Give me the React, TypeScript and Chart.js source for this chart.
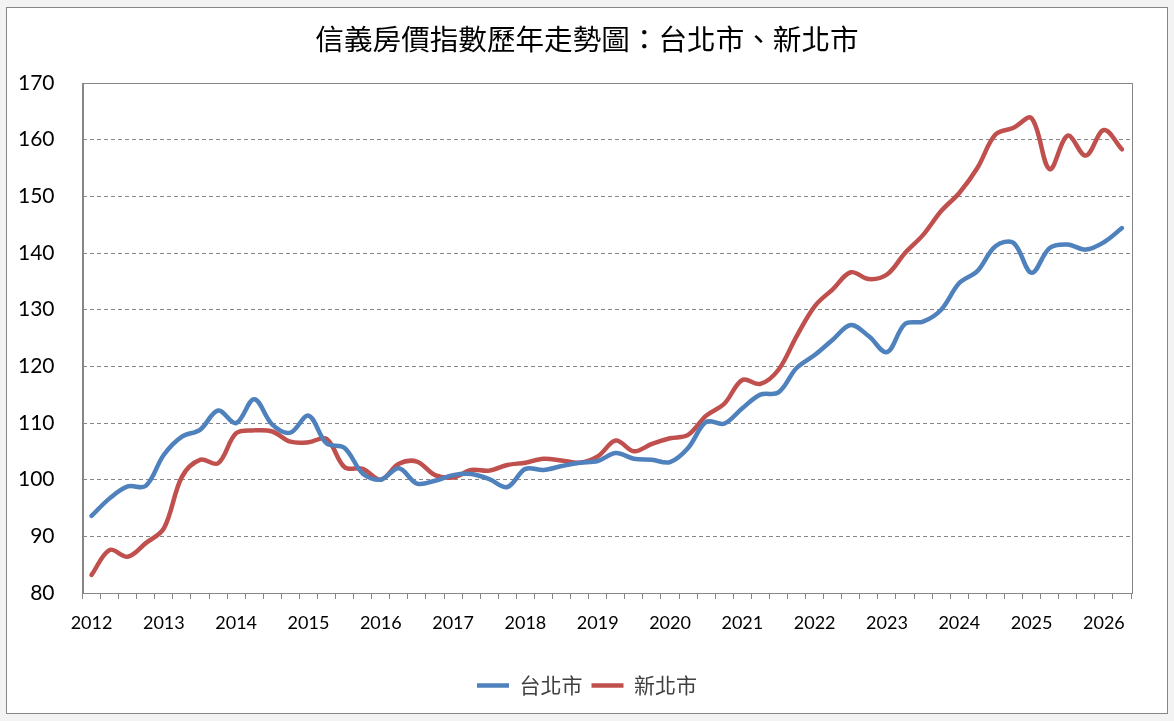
import { useEffect, useRef } from "react"
import { Chart, registerables } from "chart.js"

Chart.register(...registerables)

// quarterly index, 2012 Q1 .. 2026 Q2
const years = [2012, 2013, 2014, 2015, 2016, 2017, 2018, 2019, 2020, 2021, 2022, 2023, 2024, 2025, 2026]
const quarters = ["Q1", "Q2", "Q3", "Q4"]
const quarterLabels = years.flatMap((y) => quarters.map((q) => `${y}${q}`)).slice(0, 58)

const taipei = [
  93.6, 96.7, 98.8, 98.9, 104.4, 107.6, 108.8, 112.2, 110.0, 114.2,
  109.7, 108.3, 111.3, 106.4, 105.6, 101.1, 100.0, 102.0, 99.3, 99.8,
  100.8, 101.0, 100.1, 98.7, 101.9, 101.7, 102.4, 103.0, 103.3, 104.7,
  103.7, 103.5, 103.1, 105.6, 110.2, 109.9, 112.6, 115.0, 115.4, 119.7,
  122.0, 124.7, 127.3, 125.3, 122.5, 127.5, 127.9, 130.0, 134.7, 136.8,
  141.2, 141.8, 136.5, 140.9, 141.5, 140.6, 141.9, 144.4,
]

const newTaipei = [
  83.2, 87.6, 86.4, 88.8, 91.4, 100.5, 103.5, 102.9, 108.2, 108.7,
  108.5, 106.7, 106.6, 107.2, 102.2, 101.9, 100.0, 102.8, 103.2, 100.8,
  100.4, 101.7, 101.6, 102.6, 103.0, 103.7, 103.4, 103.0, 104.1, 106.9,
  105.0, 106.3, 107.3, 107.9, 111.3, 113.4, 117.6, 116.9, 119.4, 125.3,
  130.6, 133.6, 136.6, 135.4, 136.2, 140.0, 143.2, 147.4, 150.6, 155.0,
  160.9, 162.1, 163.8, 154.8, 160.7, 157.2, 161.7, 158.3,
]

const yTicks = [80, 90, 100, 110, 120, 130, 140, 150, 160, 170]

const GRAY = "#868686"
const LATIN = "Lato, 'Noto Sans', sans-serif"
const CJK = "'Noto Sans CJK TC', 'Noto Sans', sans-serif"

// solid frame round the plot area
const plotFrame = {
  id: "plotFrame",
  afterDraw(chart: Chart) {
    const { ctx, chartArea } = chart
    ctx.save()
    ctx.strokeStyle = GRAY
    ctx.lineWidth = 1
    ctx.strokeRect(
      Math.round(chartArea.left) + 0.5,
      Math.round(chartArea.top) + 0.5,
      Math.round(chartArea.right - chartArea.left),
      Math.round(chartArea.bottom - chartArea.top)
    )
    ctx.restore()
  },
}

function PriceIndexChart() {
  const chartRef = useRef<HTMLCanvasElement>(null)
  const chartInstance = useRef<Chart | null>(null)

  useEffect(() => {
    if (!chartRef.current) return
    if (chartInstance.current) chartInstance.current.destroy()
    const ctx = chartRef.current.getContext("2d")
    if (!ctx) return

    chartInstance.current = new Chart(ctx, {
      type: "line",
      data: {
        labels: quarterLabels,
        datasets: [
          {
            label: "台北市",
            data: taipei,
            borderColor: "#4F81BD",
            backgroundColor: "#4F81BD",
            borderWidth: 4.5,
            borderCapStyle: "round",
            pointRadius: 0,
            tension: 0.35,
          },
          {
            label: "新北市",
            data: newTaipei,
            borderColor: "#C0504D",
            backgroundColor: "#C0504D",
            borderWidth: 4.5,
            borderCapStyle: "round",
            pointRadius: 0,
            tension: 0.35,
          },
        ],
      },
      options: {
        animation: false,
        responsive: true,
        maintainAspectRatio: false,
        layout: { padding: { left: 0, right: 0, top: 0, bottom: 7 } },
        scales: {
          x: {
            offset: true,
            grid: {
              offset: true,
              drawOnChartArea: false,
              drawTicks: true,
              tickLength: 6,
              color: GRAY,
            },
            border: { color: GRAY },
            ticks: {
              autoSkip: false,
              maxRotation: 0,
              color: "#000",
              padding: 13,
              font: { family: LATIN, size: 18 },
              callback: (_v, i) => (i % 4 === 0 ? years[i / 4] : ""),
            },
            afterFit: (scale) => {
              scale.height = 73
            },
          },
          y: {
            min: yTicks[0],
            max: yTicks[yTicks.length - 1],
            grid: {
              drawTicks: false,
              color: GRAY,
            },
            // in Chart.js 4 the dash of the grid lines sits under border
            border: { color: GRAY, dash: [4, 3] },
            ticks: {
              stepSize: 10,
              color: "#000",
              padding: 28,
              font: { family: LATIN, size: 21 },
            },
            afterFit: (scale) => {
              scale.width = 75.5
            },
          },
          // empty right-hand gutter, so title and legend stay centred on the canvas
          gutter: {
            type: "linear",
            position: "right",
            display: true,
            grid: { display: false, drawTicks: false },
            border: { display: false },
            ticks: { display: false },
            afterFit: (scale) => {
              scale.width = 36
            },
          },
        },
        plugins: {
          title: {
            display: true,
            text: "信義房價指數歷年走勢圖：台北市、新北市",
            color: "#000",
            font: { family: CJK, size: 28.6, weight: "normal" },
            padding: { top: 14, bottom: 26.7 },
          },
          legend: {
            position: "bottom",
            labels: {
              usePointStyle: true,
              pointStyle: "line",
              pointStyleWidth: 32,
              color: "#404040",
              padding: 9,
              font: { family: CJK, size: 21 },
            },
          },
          tooltip: { enabled: false },
        },
      },
      plugins: [plotFrame],
    })

    return () => {
      if (chartInstance.current) {
        chartInstance.current.destroy()
        chartInstance.current = null
      }
    }
  }, [])

  return <canvas ref={chartRef} />
}

export default function App() {
  return (
    <div style={{ position: "fixed", left: 0, top: 0, width: 1174, height: 721, background: "#f3f3f3" }}>
      <div
        style={{
          position: "absolute",
          left: 6,
          top: 7,
          width: 1162,
          height: 707,
          boxSizing: "border-box",
          border: `1px solid ${GRAY}`,
          background: "#fff",
        }}
      >
        <div style={{ position: "relative", width: 1160, height: 705 }}>
          <PriceIndexChart />
        </div>
      </div>
    </div>
  )
}
